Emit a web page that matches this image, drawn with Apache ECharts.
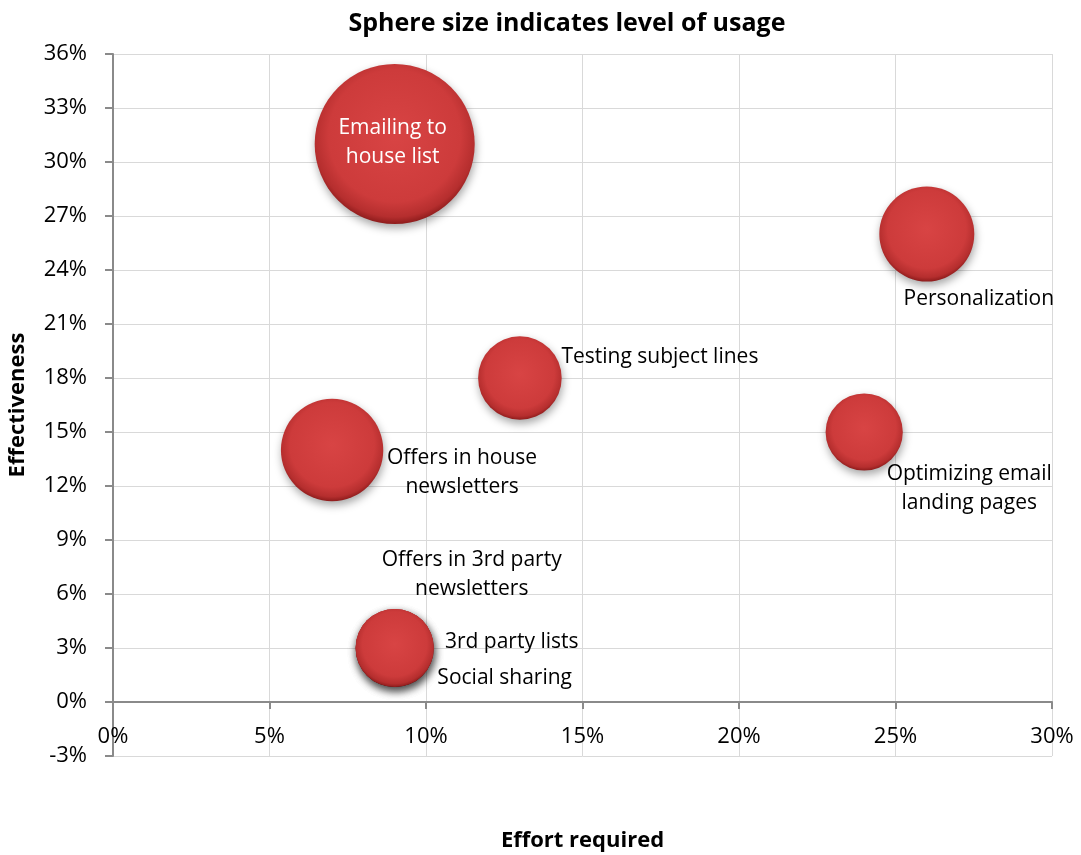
<!DOCTYPE html>
<html>
<head>
<meta charset="utf-8">
<script src="https://cdn.jsdelivr.net/npm/echarts@6/dist/echarts.min.js"></script>
<style>
html,body{margin:0;padding:0;background:#fff;}
#chart{width:1081px;height:855px;}
</style>
</head>
<body>
<div id="chart"></div>
<script>
// Data
var names = ["Emailing to\nhouse list", "Personalization", "Testing subject lines", "Offers in house\nnewsletters", "Optimizing email\nlanding pages", "Offers in 3rd party\nnewsletters", "3rd party lists", "Social sharing"];
var effort = [9, 26, 13, 7, 24, 9, 9, 9];            // x, %
var effectiveness = [31, 26, 18, 14, 15, 3, 3, 3];   // y, %
var usage = [88, 31, 24, 36, 20.5, 21, 21, 21];      // bubble size (level of usage)
var xTicks = [0, 30, 5];   // min, max, interval
var yTicks = [-3, 36, 3];

// label placement (style, not data)
var labelOffsets = [[-2, -1], [52, 65], [140, -21], [130, 23], [105, 57], [77, -73], [117, -6], [110, 30]];
var FONT = 'Open Sans';

var seriesData = names.map(function (n, i) {
  var inside = i === 0;
  return {
    name: n,
    value: [effort[i], effectiveness[i], usage[i]],
    label: {
      show: true,
      formatter: n,
      position: 'inside',
      offset: labelOffsets[i],
      align: 'center',
      verticalAlign: 'middle',
      color: inside ? '#ffffff' : '#000000',
      fontSize: 21,
      lineHeight: 29,
      fontFamily: FONT
    }
  };
});

var chart = echarts.init(document.getElementById('chart'), null, {renderer: 'canvas'});
chart.setOption({
  backgroundColor: '#ffffff',
  animation: false,
  title: {
    text: 'Sphere size indicates level of usage',
    left: 562, top: 6, textAlign: 'center',
    textStyle: {fontFamily: FONT, fontWeight: 'bold', fontSize: 25, color: '#000'}
  },
  grid: {left: 113, top: 54, right: 29, bottom: 99, containLabel: false, outerBoundsMode: 'none'},
  xAxis: {
    type: 'value', min: xTicks[0], max: xTicks[1], interval: xTicks[2],
    name: 'Effort required', nameLocation: 'middle', nameGap: 74,
    nameTextStyle: {fontFamily: FONT, fontWeight: 'bold', fontSize: 22, color: '#000'},
    axisLine: {onZero: true, lineStyle: {color: '#8a8a8a', width: 2}},
    axisTick: {show: true, length: 7, lineStyle: {color: '#8a8a8a', width: 2}},
    axisLabel: {formatter: '{value}%', margin: -30, fontFamily: FONT, fontSize: 22, color: '#000'},
    splitLine: {show: true, lineStyle: {color: '#d9d9d9', width: 1}}
  },
  yAxis: {
    type: 'value', min: yTicks[0], max: yTicks[1], interval: yTicks[2],
    name: 'Effectiveness', nameLocation: 'middle', nameGap: 84, nameRotate: 90,
    nameTextStyle: {fontFamily: FONT, fontWeight: 'bold', fontSize: 22, color: '#000'},
    axisLine: {show: true, onZero: false, lineStyle: {color: '#8a8a8a', width: 2}},
    axisTick: {show: true, length: 8, lineStyle: {color: '#8a8a8a', width: 2}},
    axisLabel: {formatter: '{value}%', margin: 26, fontFamily: FONT, fontSize: 22, color: '#000'},
    splitLine: {show: true, lineStyle: {color: '#d9d9d9', width: 1}}
  },
  series: [{
    type: 'scatter',
    data: seriesData,
    symbol: 'circle',
    symbolSize: function (v) { return Math.sqrt(v[2]) * 17.06; },
    itemStyle: {
      color: {
        type: 'radial', x: 0.5, y: 0.45, r: 0.55,
        colorStops: [
          {offset: 0, color: '#d84444'},
          {offset: 0.75, color: '#cd3b3b'},
          {offset: 0.92, color: '#b52e2e'},
          {offset: 1, color: '#8e1c1c'}
        ]
      },
      shadowBlur: 8, shadowColor: 'rgba(0,0,0,0.35)', shadowOffsetY: 4, shadowOffsetX: 1,
      opacity: 1
    },
    emphasis: {disabled: true},
    z: 3
  }]
});
</script>
</body>
</html>
